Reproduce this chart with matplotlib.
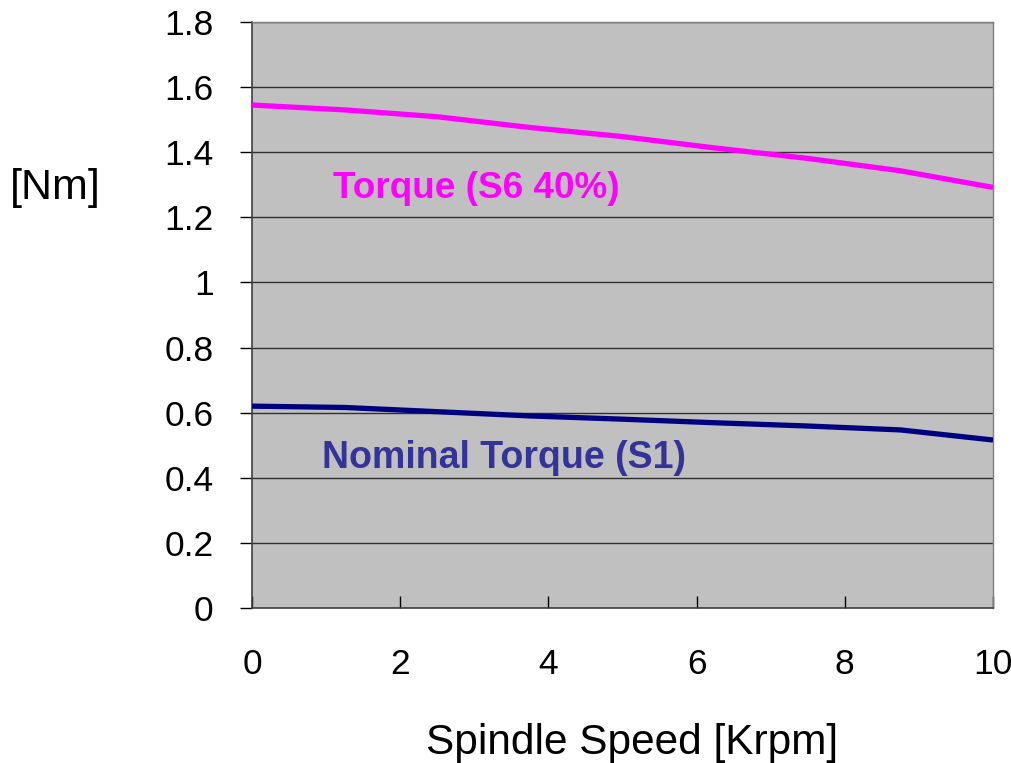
import matplotlib
matplotlib.use("Agg")
import matplotlib.pyplot as plt

speed_krpm = [0, 1.25, 2.5, 3.75, 5, 6.25, 7.5, 8.75, 10]
torque_s6 = [1.545, 1.530, 1.509, 1.476, 1.448, 1.413, 1.381, 1.343, 1.292]
torque_s1 = [0.620, 0.616, 0.603, 0.590, 0.580, 0.569, 0.559, 0.547, 0.516]
xticks = [0, 2, 4, 6, 8, 10]
yticks = [0, 0.2, 0.4, 0.6, 0.8, 1, 1.2, 1.4, 1.6, 1.8]
ytick_labels = ["0", "0.2", "0.4", "0.6", "0.8", "1", "1.2", "1.4", "1.6", "1.8"]

plt.rcParams['font.family'] = ['Liberation Sans', 'DejaVu Sans']

fig = plt.figure(figsize=(10.11, 7.63), dpi=100)
ax = fig.add_axes([252/1011, 1-608/763, (993-252)/1011, (608-22)/763])
ax.set_facecolor('#C0C0C0')

ax.plot(speed_krpm, torque_s6, color='#FF00FF', lw=3.8, solid_capstyle='butt', zorder=3)
ax.plot(speed_krpm, torque_s1, color='#000080', lw=3.8, solid_capstyle='butt', zorder=3)

ax.set_xlim(0, 10)
ax.set_ylim(0, 1.8)
ax.set_xticks(xticks)
ax.set_xticklabels([str(v) for v in xticks])
ax.set_yticks(yticks)
ax.set_yticklabels(ytick_labels)

ax.yaxis.grid(True, color='#303030', lw=1.0)
ax.set_axisbelow(True)

ax.tick_params(axis='y', direction='out', length=8.6, width=1, colors='black', labelsize=25.5, pad=19)
ax.tick_params(axis='x', direction='in', length=8.6, width=1, colors='black', labelsize=25.5, pad=29)

for s in ['top', 'right']:
    ax.spines[s].set_color('#808080')
    ax.spines[s].set_linewidth(1)
for s in ['left', 'bottom']:
    ax.spines[s].set_color('#404040')
    ax.spines[s].set_linewidth(1.2)

ax.text(1.09, 1.29, 'Torque (S6 40%)', color='#FF00FF', fontsize=26.6, fontweight='bold',
        va='center', ha='left')
ax.text(0.945, 0.462, 'Nominal Torque (S1)', color='#333399', fontsize=27, fontweight='bold',
        va='center', ha='left')

fig.text(55/1011, 1-188/763, '[Nm]', fontsize=31, ha='center', va='center')
fig.text(632/1011, 1-743/763, 'Spindle Speed [Krpm]', fontsize=30.5, ha='center', va='center')

fig.savefig('out.png', dpi=100)
